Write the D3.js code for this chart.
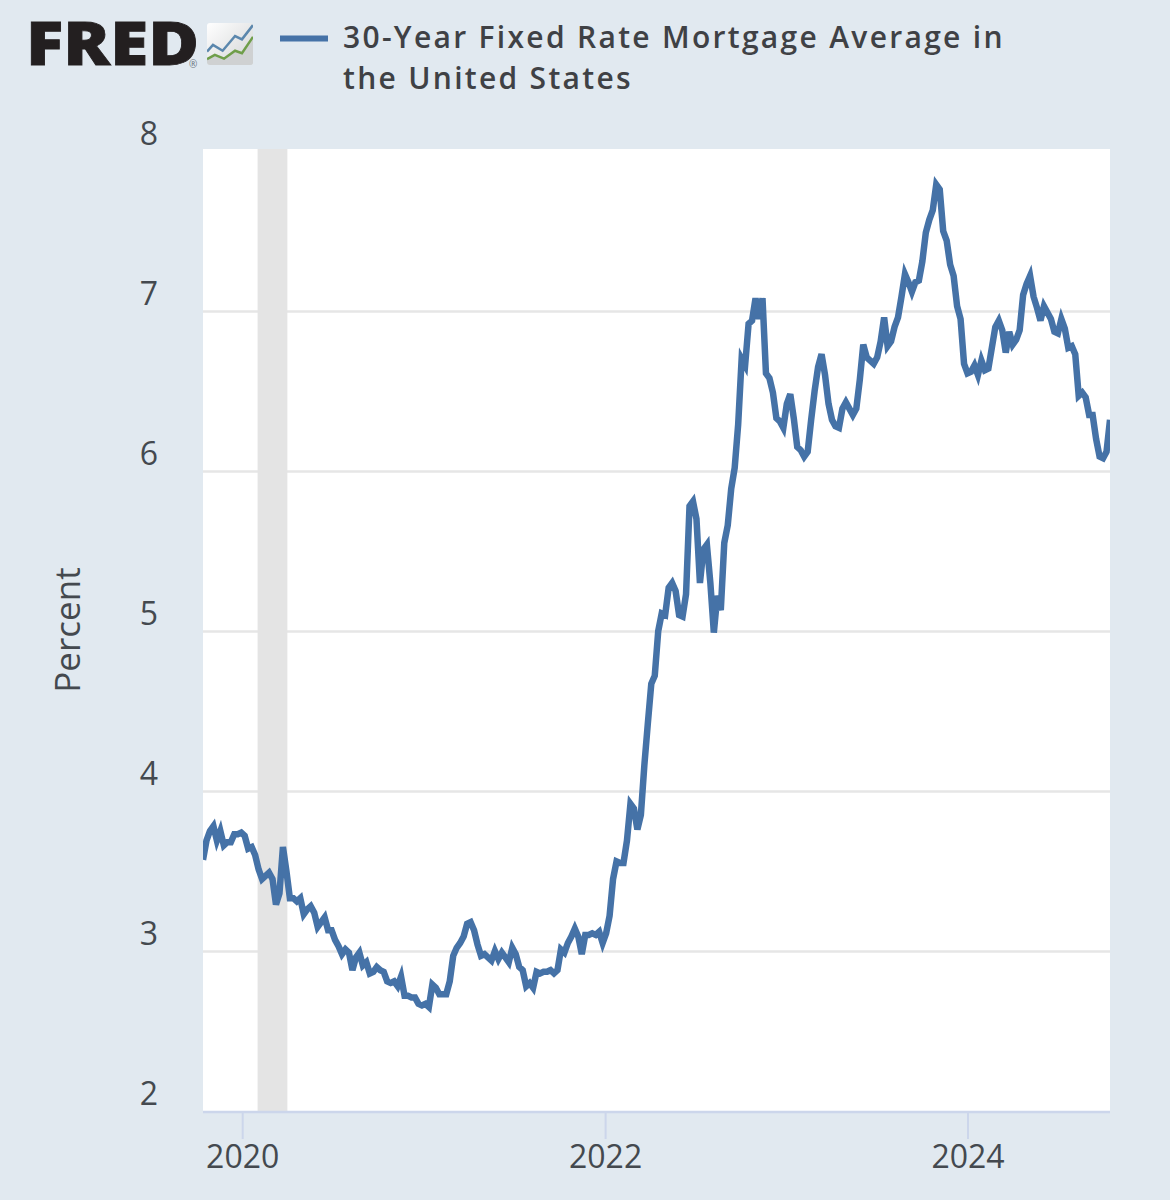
<!DOCTYPE html>
<html>
<head>
<meta charset="utf-8">
<script src="https://cdn.jsdelivr.net/npm/d3@7"></script>
<style>
  html, body { margin: 0; padding: 0; background: #e1e9f0; }
  svg { display: block; }
  text { font-family: "Open Sans", sans-serif; }
</style>
</head>
<body>
<svg id="chart" width="1170" height="1200"></svg>
<script>
// weekly readings, one list per calendar year
const rates2019 = [3.57,3.69,3.75,3.78,3.69,3.75,3.66,3.68,3.68,3.73,3.73,3.74];
const rates2020 = [3.72,3.64,3.65,3.60,3.51,3.45,3.47,3.49,3.45,3.29,3.36,3.65,3.50,
  3.33,3.33,3.31,3.33,3.23,3.26,3.28,3.24,3.15,3.18,3.21,3.13,3.13,
  3.07,3.03,2.98,3.01,2.99,2.88,2.96,2.99,2.91,2.93,2.86,2.87,2.90,
  2.88,2.87,2.81,2.80,2.81,2.78,2.84,2.72,2.72,2.71,2.71,2.67,2.66,2.67];
const rates2021 = [2.65,2.79,2.77,2.73,2.73,2.73,2.81,2.97,3.02,3.05,3.09,3.17,
  3.18,3.13,3.04,2.97,2.98,2.96,2.94,3.00,2.95,2.99,2.96,2.93,3.02,
  2.98,2.90,2.88,2.78,2.80,2.77,2.87,2.86,2.87,2.87,2.88,2.86,2.88,3.01,
  2.99,3.05,3.09,3.14,3.09,2.98,3.10,3.10,3.11,3.10,3.12,3.05,3.11];
const rates2022 = [3.22,3.45,3.56,3.55,3.55,3.69,3.92,3.89,3.76,3.85,4.16,4.42,4.67,
  4.72,5.00,5.11,5.10,5.27,5.30,5.25,5.10,5.09,5.23,5.78,5.81,5.70,
  5.30,5.51,5.54,5.30,4.99,5.22,5.13,5.55,5.66,5.89,6.02,6.29,6.70,
  6.66,6.92,6.94,7.08,6.95,7.08,6.61,6.58,6.49,6.33,6.31,6.27,6.42];
const rates2023 = [6.48,6.33,6.15,6.13,6.09,6.12,6.32,6.50,6.65,6.73,6.60,6.42,6.32,
  6.28,6.27,6.39,6.43,6.39,6.35,6.39,6.57,6.79,6.71,6.69,6.67,6.71,
  6.81,6.96,6.78,6.81,6.90,6.96,7.09,7.23,7.18,7.12,7.18,7.19,7.31,
  7.49,7.57,7.63,7.79,7.76,7.50,7.44,7.29,7.22,7.03,6.95,6.67,6.61];
const rates2024 = [6.62,6.66,6.60,6.69,6.63,6.64,6.77,6.90,6.94,6.88,6.74,6.87,6.79,
  6.82,6.88,7.10,7.17,7.22,7.09,7.02,6.94,7.03,6.99,6.95,6.87,6.86,
  6.95,6.89,6.77,6.78,6.73,6.47,6.49,6.46,6.35,6.35,6.20,6.09,6.08,6.12,6.32];

const rates = [].concat(rates2019, rates2020, rates2021, rates2022, rates2023, rates2024);
const firstWeek = new Date(2019, 9, 10);
const weeks = rates.map((d, i) => d3.timeWeek.offset(firstWeek, i));

const yTicks = [2, 3, 4, 5, 6, 7, 8];
const xTickYears = [2020, 2022, 2024];
const recession = [new Date(2020, 1, 1), new Date(2020, 3, 1)];
const seriesName = ["30-Year Fixed Rate Mortgage Average in", "the United States"];

// little chart in the logo tile
const logoBlueX = [0, 0.13, 0.34, 0.61, 0.76, 1];
const logoBlueY = [0.32, 0.48, 0.34, 0.69, 0.61, 0.95];
const logoGreenX = [0, 0.17, 0.37, 0.61, 0.76, 1];
const logoGreenY = [0.14, 0.24, 0.15, 0.34, 0.28, 0.67];

const plot = { left: 203, right: 1110, top: 149, bottom: 1111 };
const bandShift = -2;   // ticks and the band sit a touch left of the line

const svg = d3.select("#chart");

const x = d3.scaleTime().domain([firstWeek, weeks[weeks.length - 1]]).range([plot.left, plot.right]);
const y = d3.scaleLinear().domain([2, 8]).range([plot.bottom, 151]);

svg.append("rect").attr("width", 1170).attr("height", 1200).attr("fill", "#e1e9f0");
svg.append("rect")
  .attr("x", plot.left).attr("y", plot.top)
  .attr("width", plot.right - plot.left).attr("height", plot.bottom - plot.top)
  .attr("fill", "#fff");

const defs = svg.append("defs");
defs.append("clipPath").attr("id", "plot-clip")
  .append("rect")
  .attr("x", plot.left).attr("y", plot.top - 5)
  .attr("width", plot.right - plot.left).attr("height", plot.bottom - plot.top + 5);

//Grid lines
svg.append("g").selectAll("line")
  .data(yTicks.filter(d => d > 2 && d < 8))
  .enter().append("line")
  .attr("x1", plot.left).attr("x2", plot.right)
  .attr("y1", d => y(d) + 0.5).attr("y2", d => y(d) + 0.5)
  .attr("stroke", "#e6e6e6").attr("stroke-width", 2.5);

//Recession band
svg.append("rect")
  .attr("x", x(recession[0]) + bandShift).attr("y", plot.top)
  .attr("width", x(recession[1]) - x(recession[0]))
  .attr("height", plot.bottom - plot.top)
  .attr("fill", "#e4e4e4");

//Left axis labels, they sit above their grid line
const yAxis = d3.axisLeft(y).tickValues(yTicks).tickSize(0).tickPadding(0).tickFormat(d3.format("d"));
const gy = svg.append("g").attr("transform", "translate(158,-17)").call(yAxis);
gy.select(".domain").remove();
gy.selectAll("text")
  .attr("font-size", 32).attr("fill", "#44494f")
  .style("font-family", '"Open Sans", sans-serif');

svg.append("text")
  .attr("transform", "translate(66,630) rotate(-90)")
  .attr("text-anchor", "middle").attr("dominant-baseline", "central")
  .attr("font-size", 35).attr("fill", "#44494f")
  .text("Percent");

//Bottom axis
const xTickDates = xTickYears.map(d => new Date(d, 0, 1));
const xAxis = d3.axisBottom(x).tickValues(xTickDates).tickSizeOuter(0).tickSizeInner(28).tickPadding(6).tickFormat(d3.timeFormat("%Y"));
const gx = svg.append("g").attr("transform", `translate(${bandShift},${plot.bottom})`).call(xAxis);
gx.select(".domain").remove();
gx.selectAll("line").attr("stroke", "#ccd6eb").attr("stroke-width", 2);
gx.selectAll("text")
  .attr("font-size", 32).attr("fill", "#44494f")
  .style("font-family", '"Open Sans", sans-serif');
svg.append("line")
  .attr("x1", plot.left).attr("x2", plot.right)
  .attr("y1", plot.bottom + 1).attr("y2", plot.bottom + 1)
  .attr("stroke", "#ccd6eb").attr("stroke-width", 2.5);

//Series line
const line = d3.line().x((d, i) => x(weeks[i])).y(d => y(d));
svg.append("path")
  .datum(rates)
  .attr("clip-path", "url(#plot-clip)")
  .attr("d", line)
  .attr("fill", "none")
  .attr("stroke", "#4572a7")
  .attr("stroke-width", 6.5)
  .attr("stroke-linejoin", "miter");

//Legend
svg.append("line")
  .attr("x1", 280).attr("x2", 328).attr("y1", 38.5).attr("y2", 38.5)
  .attr("stroke", "#4572a7").attr("stroke-width", 6);
svg.append("g").selectAll("text")
  .data(seriesName)
  .enter().append("text")
  .attr("x", 343).attr("y", (d, i) => 48 + i * 41)
  .attr("font-size", 30).attr("font-weight", 600)
  .attr("letter-spacing", 2.3).attr("fill", "#3f4145")
  .text(d => d);

//FRED logo
svg.append("text")
  .attr("x", 26).attr("y", 65)
  .attr("font-size", 60).attr("font-weight", 800)
  .attr("textLength", 173).attr("lengthAdjust", "spacingAndGlyphs")
  .attr("fill", "#231f20").attr("stroke", "#231f20").attr("stroke-width", 0.8)
  .text("FRED");
svg.append("text")
  .attr("x", 189).attr("y", 68)
  .attr("font-size", 10).attr("fill", "#6b7580")
  .text("®");

const tileGrad = defs.append("linearGradient")
  .attr("id", "tile").attr("x1", 0).attr("y1", 0).attr("x2", 1).attr("y2", 1);
tileGrad.append("stop").attr("offset", "0%").attr("stop-color", "#ffffff");
tileGrad.append("stop").attr("offset", "100%").attr("stop-color", "#d2d4d5");
defs.append("clipPath").attr("id", "tile-clip")
  .append("rect")
  .attr("x", 207).attr("y", 23).attr("width", 46).attr("height", 42).attr("rx", 3);

const logoX = d3.scaleLinear().domain([0, 1]).range([207, 253]);
const logoY = d3.scaleLinear().domain([0, 1]).range([65, 23]);
const tile = svg.append("g").attr("clip-path", "url(#tile-clip)");
tile.append("rect")
  .attr("x", 207).attr("y", 23).attr("width", 46).attr("height", 42)
  .attr("fill", "url(#tile)");
tile.append("path")
  .datum(logoGreenX)
  .attr("d", d3.area().x(d => logoX(d)).y0(logoY(0)).y1((d, i) => logoY(logoGreenY[i])))
  .attr("fill", "#cfd1d2");
const logoLine = (xs, ys, colour) => tile.append("path")
  .datum(xs)
  .attr("d", d3.line().x(d => logoX(d)).y((d, i) => logoY(ys[i])))
  .attr("fill", "none").attr("stroke", colour).attr("stroke-width", 2.5);
logoLine(logoBlueX, logoBlueY, "#5b87ad");
logoLine(logoGreenX, logoGreenY, "#6f9e4a");
</script>
</body>
</html>
